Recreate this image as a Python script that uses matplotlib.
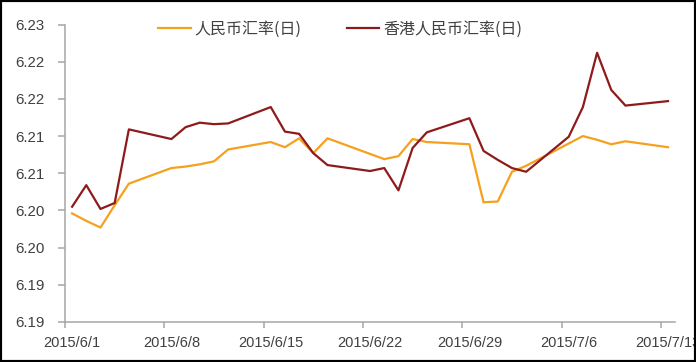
import datetime as dt

import matplotlib
matplotlib.use('Agg')
import matplotlib.pyplot as plt
import matplotlib.dates as mdates
from matplotlib.patches import Rectangle

# trading days shown on the chart
days = ['2015-06-01', '2015-06-02', '2015-06-03', '2015-06-04', '2015-06-05',
        '2015-06-08', '2015-06-09', '2015-06-10', '2015-06-11', '2015-06-12',
        '2015-06-15', '2015-06-16', '2015-06-17', '2015-06-18', '2015-06-19',
        '2015-06-22', '2015-06-23', '2015-06-24', '2015-06-25', '2015-06-26',
        '2015-06-29', '2015-06-30', '2015-07-01', '2015-07-02', '2015-07-03',
        '2015-07-06', '2015-07-07', '2015-07-08', '2015-07-09', '2015-07-10',
        '2015-07-13']

cny = [6.1996, 6.1986, 6.1977, 6.2007, 6.2036,
       6.2057, 6.2059, 6.2062, 6.2066, 6.2082,
       6.2092, 6.2085, 6.2097, 6.2077, 6.2097,
       6.2076, 6.2069, 6.2073, 6.2096, 6.2092,
       6.2089, 6.2011, 6.2012, 6.2052, 6.2060,
       6.2090, 6.2100, 6.2095, 6.2089, 6.2093,
       6.2085]

cnh = [6.2005, 6.2034, 6.2002, 6.2010, 6.2109,
       6.2096, 6.2112, 6.2118, 6.2116, 6.2117,
       6.2139, 6.2106, 6.2103, 6.2077, 6.2061,
       6.2053, 6.2057, 6.2027, 6.2084, 6.2105,
       6.2124, 6.2080, 6.2068, 6.2057, 6.2052,
       6.2099, 6.2139, 6.2212, 6.2162, 6.2141,
       6.2147]

y_ticks = [6.185, 6.19, 6.195, 6.20, 6.205, 6.21, 6.215, 6.22, 6.225]
y_labels = ['6.19', '6.19', '6.20', '6.20', '6.21', '6.21', '6.22', '6.22', '6.23']

x_tick_days = ['2015-06-01', '2015-06-08', '2015-06-15', '2015-06-22',
               '2015-06-29', '2015-07-06', '2015-07-13']
x_labels = ['2015/6/1', '2015/6/8', '2015/6/15', '2015/6/22',
            '2015/6/29', '2015/7/6', '2015/7/13']

label_font = ['Liberation Sans', 'DejaVu Sans']
cjk_font = ['Noto Sans CJK SC', 'DejaVu Sans']

to_num = lambda s: mdates.date2num(dt.datetime.strptime(s, '%Y-%m-%d'))
xs = [to_num(d) + 0.5 for d in days]

fig = plt.figure(figsize=(6.96, 3.62), dpi=100)
ax = fig.add_axes([0.0934, 0.1105, 0.8766, 0.8218])

ax.plot(xs, cny, color='#F5A01E', lw=1.6, label='人民币汇率(日)')
ax.plot(xs, cnh, color='#8E1B1B', lw=1.6, label='香港人民币汇率(日)')

ax.set_xlim(to_num('2015-06-01'), to_num('2015-07-14'))
ax.set_ylim(6.185, 6.225)

ax.set_yticks(y_ticks)
ax.set_yticklabels(y_labels, family=label_font, fontsize=10.8, color='#404040')
ax.tick_params(axis='y', direction='out', length=5, width=1.1, color='#A6A6A6', pad=10)

tick_pos = [to_num(d) for d in x_tick_days]
ax.set_xticks(tick_pos)
ax.set_xticklabels([''] * len(tick_pos))
ax.set_xticks([p + 0.5 for p in tick_pos], minor=True)
ax.set_xticklabels(x_labels, minor=True, family=label_font, fontsize=10.5, color='#404040')
ax.tick_params(axis='x', which='major', direction='out', length=4, width=1.1, color='#A6A6A6')
ax.tick_params(axis='x', which='minor', length=0, pad=10)

for side in ['top', 'right']:
    ax.spines[side].set_visible(False)
for side in ['left', 'bottom']:
    ax.spines[side].set_color('#A6A6A6')
    ax.spines[side].set_linewidth(1.1)

leg = ax.legend(loc='upper center', bbox_to_anchor=(0.451, 1.06), ncol=2, frameon=False,
                prop={'family': cjk_font, 'size': 11.5}, handlelength=2.06,
                handletextpad=0.25, columnspacing=2.8)
for t in leg.get_texts():
    t.set_color('#404040')

# black frame round the picture
fig.add_artist(Rectangle((0, 0), 1, 1, transform=fig.transFigure, fill=False,
                         edgecolor='black', lw=3, zorder=10))

fig.savefig('out.png', dpi=100)
